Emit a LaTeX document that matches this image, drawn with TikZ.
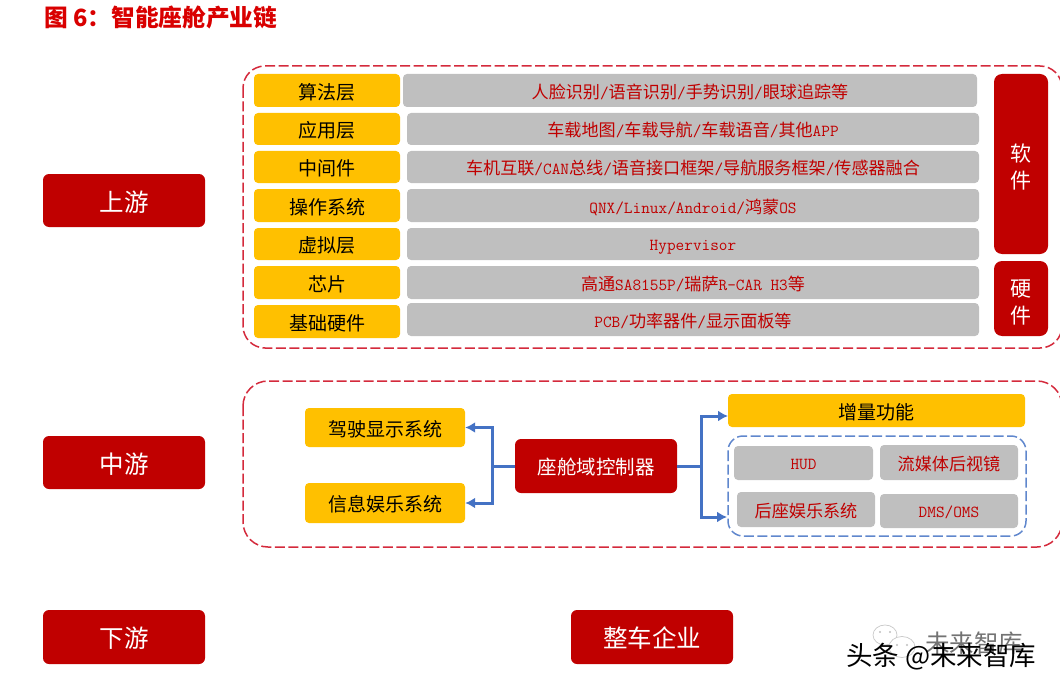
\documentclass[tikz,border=0pt]{standalone}
\usepackage{fontspec}
\setmainfont{Noto Sans CJK SC}
\usepackage{tikz}
\usetikzlibrary{arrows.meta}
\definecolor{deepred}{HTML}{C00000}
\definecolor{gold}{HTML}{FFC000}
\definecolor{slate}{HTML}{BFBFBF}
\definecolor{dashred}{HTML}{D42A3C}
\definecolor{flowblue}{HTML}{4472C4}
\newcommand{\lat}[1]{{\ttfamily\fontsize{16.8}{20}\selectfont #1}}
\newcommand{\fsz}[1]{\fontsize{#1}{#1}\selectfont}
\tikzset{
    wh/.style 2 args={minimum width=#1pt,minimum height=#2pt,inner sep=0pt},
    redbox/.style={fill=deepred,text=white,rounded corners=6pt,font=\fsz{24.5},text height=23.6pt,text depth=2pt},
    sidebox/.style={fill=deepred,text=white,rounded corners=8pt,align=center,font=\fontsize{21}{27}\selectfont},
    goldbox/.style={fill=gold,text=black,rounded corners=4pt,font=\fsz{19},text height=18pt,text depth=.6pt},
    greybox/.style={fill=slate,text=deepred,rounded corners=4pt,font=\fsz{17.1},text height=17pt,text depth=1pt},
    latinbox/.style={greybox,text height=14pt},
    frame/.style={draw=dashred,line width=1.5pt,dash pattern=on 10pt off 3.5pt},
    innerframe/.style={draw=flowblue!85!white,line width=1.5pt,dash pattern=on 10pt off 3.5pt},
    flow/.style={draw=flowblue,line width=3pt},
}
\begin{document}
\begin{tikzpicture}[x=1pt,y=-1pt]
    \useasboundingbox (0,0) rectangle (1060,690);
    \node[anchor=west,inner sep=0pt,text=red!85!black,font=\bfseries\fsz{23.7}] (title) at (44,17) {图 6：智能座舱产业链};
    \draw[frame,rounded corners=22pt] (243,66) rectangle (1062,348);
    \draw[frame,rounded corners=25pt] (243,381) rectangle (1062,547);
    \node[redbox,wh={162}{53}] (up) at (124,200.5) {上游};
    \node[redbox,wh={162}{53}] (mid) at (124,462.5) {中游};
    \node[redbox,wh={162}{54}] (down) at (124,637) {下游};
    \node[redbox,wh={162}{54}] (oem) at (652,637) {整车企业};
    \node[goldbox,wh={146}{33}] (algo) at (327,90.5) {算法层};
    \node[goldbox,wh={146}{32}] (app) at (327,129) {应用层};
    \node[goldbox,wh={146}{32}] (middle) at (327,167) {中间件};
    \node[goldbox,wh={146}{33}] (os) at (327,205.5) {操作系统};
    \node[goldbox,wh={146}{32}] (virt) at (327,244) {虚拟层};
    \node[goldbox,wh={146}{33}] (chip) at (327,282.5) {芯片};
    \node[goldbox,wh={146}{33}] (base) at (327,321.5) {基础硬件};
    \node[greybox,wh={574}{33}] (algotxt) at (690,90.5) {人脸识别\lat{/}语音识别\lat{/}手势识别\lat{/}眼球追踪等};
    \node[greybox,wh={572}{32}] (apptxt) at (693,129) {车载地图\lat{/}车载导航\lat{/}车载语音\lat{/}其他\lat{APP}};
    \node[greybox,wh={572}{32}] (middletxt) at (693,167) {车机互联\lat{/CAN}总线\lat{/}语音接口框架\lat{/}导航服务框架\lat{/}传感器融合};
    \node[greybox,wh={572}{33}] (ostxt) at (693,205.5) {\lat{QNX/Linux/Android/}鸿蒙\lat{OS}};
    \node[latinbox,wh={572}{32}] (virttxt) at (693,244) {\lat{Hypervisor}};
    \node[greybox,wh={572}{33}] (chiptxt) at (693,282.5) {高通\lat{SA8155P/}瑞萨\lat{R-CAR H3}等};
    \node[greybox,wh={572}{33}] (basetxt) at (693,319.5) {\lat{PCB/}功率器件\lat{/}显示面板等};
    \node[sidebox,wh={54}{180}] (soft) at (1021,164) {\rule{0pt}{24pt}软\\件};
    \node[sidebox,wh={54}{75}] (hard) at (1021,298.5) {\rule{0pt}{24pt}硬\\件};
    \node[goldbox,wh={160}{39}] (drive) at (385,427.5) {驾驶显示系统};
    \node[goldbox,wh={160}{40}] (info) at (385,503) {信息娱乐系统};
    \node[redbox,wh={162}{54},font=\fsz{19.5},text height=18pt,text depth=1pt] (ctrl) at (596,466) {座舱域控制器};
    \node[goldbox,wh={297}{33}] (extra) at (876.5,410.5) {增量功能};
    \draw[innerframe,rounded corners=15pt] (728,436) rectangle (1026,536);
    \node[latinbox,wh={139}{34}] (hud) at (803.5,463) {\lat{HUD}};
    \node[greybox,wh={138}{35}] (mirror) at (949,462.5) {流媒体后视镜};
    \node[greybox,wh={138}{35}] (rear) at (806,509.5) {后座娱乐系统};
    \node[latinbox,wh={138}{34}] (dms) at (949,511) {\lat{DMS/OMS}};
    \coordinate (splitl) at (492,466);
    \coordinate (splitr) at (701,466);
    \coordinate (tipup) at (728,416);
    \coordinate (tipdown) at (727,517);
    \draw[flow,-{Latex[length=10pt,width=11pt]}] (ctrl.west) -- (splitl) |- (drive.east);
    \draw[flow,-{Latex[length=10pt,width=11pt]}] (splitl) |- (info.east);
    \draw[flow,-{Latex[length=10pt,width=11pt]}] (ctrl.east) -- (splitr) |- (tipup);
    \draw[flow,-{Latex[length=10pt,width=11pt]}] (splitr) |- (tipdown);
    \draw[black!22,line width=.7pt] (885,635) ellipse (12 and 10);
    \draw[black!22,line width=.7pt,fill=white] (902,647) ellipse (13 and 10.5);
    \fill[black!25] (880,632) circle (1.2) (890,632) circle (1.2) (897,645) circle (1.2) (907,645) circle (1.2);
    \node[anchor=west,inner sep=0pt,text=black!55,font=\fsz{24.5}] (markup) at (925,643) {未来智库};
    \node[anchor=west,inner sep=0pt,text=black,font=\fsz{26.5}] (markdown) at (846,657) {头条 \lat{\fsz{26.5}\textrm{@}}未来智库};
\end{tikzpicture}
\end{document}
